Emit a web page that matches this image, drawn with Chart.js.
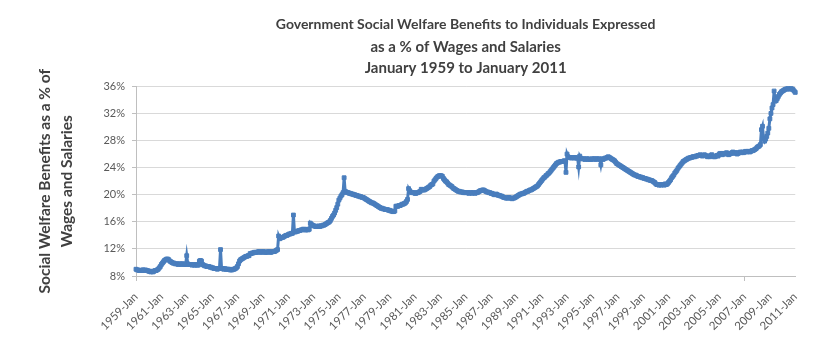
<!DOCTYPE html>
<html>
<head>
<meta charset="utf-8">
<script src="https://cdn.jsdelivr.net/npm/chart.js@4"></script>
<style>
  html, body { margin: 0; padding: 0; background: #ffffff; }
  #wrap { width: 814px; height: 358px; position: relative; }
</style>
</head>
<body>
<div id="wrap"><canvas id="c" width="814" height="358"></canvas></div>
<script>
// ---- Data (monthly, % of wages and salaries) ----
const years = [1959,1960,1961,1962,1963,1964,1965,1966,1967,1968,1969,1970,1971,1972,1973,1974,1975,1976,1977,1978,1979,1980,1981,1982,1983,1984,1985,1986,1987,1988,1989,1990,1991,1992,1993,1994,1995,1996,1997,1998,1999,2000,2001,2002,2003,2004,2005,2006,2007,2008,2009,2010,2011];
const months = ['Jan','Feb','Mar','Apr','May','Jun','Jul','Aug','Sep','Oct','Nov','Dec'];

const values1959to1968 = [
  9.0,8.9,8.9,8.8,8.8,8.8,8.9,8.9,8.8,8.9,8.8,8.8,
  8.7,8.7,8.6,8.7,8.6,8.7,8.8,8.8,8.9,9.0,9.2,9.4,
  9.7,9.9,10.1,10.3,10.4,10.5,10.5,10.4,10.2,10.1,10.0,9.9,
  9.9,9.8,9.8,9.8,9.7,9.8,9.8,9.7,9.8,9.8,9.7,9.7,
  11.0,9.8,9.7,9.7,9.7,9.6,9.7,9.6,9.6,9.7,9.6,9.6,
  10.2,10.3,10.2,9.7,9.6,9.5,9.5,9.4,9.4,9.4,9.3,9.3,
  9.2,9.2,9.1,9.1,9.1,9.0,9.1,9.1,11.9,9.1,9.1,9.0,
  9.1,9.0,9.0,9.0,9.0,8.9,8.9,8.9,9.0,9.0,9.1,9.2,
  9.4,9.8,10.2,10.4,10.5,10.6,10.7,10.8,10.9,10.9,11.0,11.0,
  11.3,11.3,11.4,11.4,11.5,11.5,11.5,11.5,11.6,11.6,11.5,11.5
];
const values1969to1978 = [
  11.6,11.6,11.5,11.5,11.5,11.6,11.6,11.5,11.5,11.6,11.6,11.6,
  11.7,11.8,11.9,13.9,13.5,13.6,13.7,13.7,13.8,13.9,14.0,14.0,
  14.1,14.2,14.2,14.3,14.3,17.0,14.5,14.5,14.6,14.6,14.7,14.7,
  14.8,14.8,14.9,14.9,14.8,14.8,14.9,14.8,14.9,15.8,15.6,15.5,
  15.4,15.4,15.3,15.3,15.3,15.4,15.3,15.4,15.4,15.5,15.5,15.6,
  15.7,15.8,15.9,16.0,16.2,16.5,16.8,17.0,17.3,17.7,18.1,18.6,
  19.2,19.5,19.8,20.0,20.3,22.5,20.5,20.4,20.3,20.3,20.2,20.2,
  20.1,20.1,20.0,20.0,19.9,19.9,19.8,19.8,19.7,19.7,19.6,19.6,
  19.5,19.4,19.3,19.2,19.1,19.0,18.9,18.8,18.8,18.7,18.6,18.5,
  18.4,18.3,18.2,18.1,18.0,18.0,17.9,17.9,17.8,17.8,17.8,17.7
];
const values1979to1988 = [
  17.7,17.6,17.6,17.5,17.5,17.6,18.3,18.3,18.3,18.4,18.4,18.5,
  18.6,18.6,18.7,18.8,19.0,19.3,20.9,20.6,20.4,20.3,20.3,20.3,
  20.2,20.2,20.3,20.3,20.4,20.5,20.8,20.7,20.7,20.7,20.8,20.9,
  21.0,21.1,21.2,21.4,21.5,21.6,22.0,22.2,22.4,22.6,22.7,22.8,
  22.8,22.8,22.7,22.4,22.2,22.0,21.9,21.7,21.5,21.4,21.3,21.2,
  21.0,20.9,20.8,20.7,20.6,20.5,20.5,20.4,20.4,20.4,20.3,20.3,
  20.3,20.3,20.3,20.2,20.3,20.3,20.2,20.3,20.3,20.2,20.3,20.3,
  20.4,20.5,20.6,20.6,20.7,20.7,20.6,20.5,20.4,20.4,20.3,20.3,
  20.2,20.2,20.1,20.0,20.0,20.1,20.0,19.9,19.9,19.8,19.8,19.7,
  19.6,19.6,19.5,19.5,19.5,19.6,19.5,19.5,19.4,19.5,19.5,19.6
];
const values1989to1998 = [
  19.7,19.8,19.9,20.0,20.1,20.1,20.2,20.2,20.3,20.4,20.5,20.5,
  20.6,20.7,20.7,20.8,20.9,21.0,21.1,21.2,21.3,21.5,21.7,21.9,
  22.1,22.3,22.5,22.6,22.8,22.9,23.1,23.2,23.4,23.6,23.8,24.0,
  24.2,24.4,24.6,24.7,24.8,24.8,24.9,24.9,24.9,25.0,25.0,23.3,
  26.0,25.6,25.5,25.5,25.4,25.5,25.5,25.4,25.5,25.4,25.4,24.1,
  25.7,25.4,25.3,25.3,25.3,25.2,25.3,25.3,25.2,25.3,25.2,25.2,
  25.3,25.3,25.3,25.2,25.3,25.3,25.3,25.2,24.4,25.3,25.2,25.3,
  25.4,25.4,25.5,25.6,25.5,25.4,25.3,25.2,25.1,25.0,24.8,24.6,
  24.5,24.4,24.3,24.2,24.1,24.0,23.9,23.8,23.7,23.6,23.5,23.4,
  23.3,23.2,23.1,23.0,22.9,22.9,22.8,22.7,22.7,22.6,22.6,22.5
];
const values1999to2011 = [
  22.5,22.4,22.4,22.3,22.3,22.2,22.2,22.1,22.1,22.0,21.9,21.8,
  21.6,21.5,21.5,21.4,21.5,21.4,21.5,21.5,21.4,21.6,21.5,21.6,
  21.8,22.0,22.2,22.5,22.7,22.9,23.2,23.4,23.6,23.9,24.1,24.3,
  24.5,24.7,24.9,25.0,25.1,25.2,25.3,25.4,25.4,25.5,25.5,25.6,
  25.6,25.6,25.7,25.7,25.8,25.8,25.9,25.8,25.7,25.8,25.9,25.8,
  25.7,25.6,25.7,25.6,25.8,25.9,25.7,25.6,25.6,25.7,25.8,25.7,
  26.0,26.1,26.0,25.9,26.1,26.0,26.1,26.2,26.0,25.9,26.0,26.1,
  26.2,26.3,26.1,26.2,26.2,26.0,26.1,26.2,26.3,26.2,26.3,26.2,
  26.3,26.4,26.3,26.4,26.4,26.3,26.4,26.5,26.5,26.6,26.7,26.8,
  27.0,27.1,27.2,27.4,29.6,30.1,28.3,27.9,28.2,28.6,29.1,29.8,
  31.2,32.0,32.8,33.3,35.3,33.8,33.9,34.2,34.5,34.8,35.0,35.2,
  35.3,35.4,35.5,35.6,35.6,35.7,35.6,35.6,35.7,35.6,35.5,35.3,
  35.1
];

const tickLabels = ['1959-Jan','1961-Jan','1963-Jan','1965-Jan','1967-Jan','1969-Jan','1971-Jan','1973-Jan','1975-Jan','1977-Jan','1979-Jan','1981-Jan','1983-Jan','1985-Jan','1987-Jan','1989-Jan','1991-Jan','1993-Jan','1995-Jan','1997-Jan','1999-Jan','2001-Jan','2003-Jan','2005-Jan','2007-Jan','2009-Jan','2011-Jan'];
const yTicks = [8,12,16,20,24,28,32,36];

const titleLines = ['Government Social Welfare Benefits to Individuals Expressed', 'as a % of Wages and Salaries', 'January 1959 to January 2011'];
const yTitleLines = ['Social Welfare Benefits as a % of', 'Wages and Salaries'];

// ---- Build library inputs ----
const values = [].concat(values1959to1968, values1969to1978, values1979to1988, values1989to1998, values1999to2011);
const labels = [];
for (const y of years) {
  for (const m of months) {
    if (labels.length < values.length) labels.push(y + '-' + m);
  }
}
const tickSet = new Set(tickLabels);

const blue = '#4a7ebd';
const FONT = 'Lato, "Open Sans", "DejaVu Sans", sans-serif';

new Chart(document.getElementById('c'), {
  type: 'line',
  data: {
    labels: labels,
    datasets: [{
      data: values,
      borderColor: blue,
      backgroundColor: blue,
      borderWidth: 3,
      pointStyle: 'rect',
      pointRadius: 2.7,
      pointBorderWidth: 1,
      pointBackgroundColor: blue,
      pointBorderColor: blue,
      tension: 0,
      fill: false
    }]
  },
  options: {
    responsive: false,
    animation: false,
    devicePixelRatio: 1,
    layout: { padding: { left: 0, right: 17, top: 0, bottom: 0 } },
    plugins: {
      legend: { display: false },
      tooltip: { enabled: false },
      title: {
        display: true,
        text: titleLines[0],
        fullSize: false,
        color: '#404040',
        font: { family: FONT, size: 14, weight: 'bold', lineHeight: 1.2 },
        padding: { top: 16, bottom: 3 }
      },
      subtitle: {
        display: true,
        text: [titleLines[1], titleLines[2]],
        fullSize: false,
        color: '#404040',
        font: { family: FONT, size: 15, weight: 'bold', lineHeight: 1.45 },
        padding: { top: 0, bottom: 7 }
      }
    },
    scales: {
      x: {
        type: 'category',
        afterFit: (s) => { s.height = 82; },
        border: { display: true, color: '#bfbfbf', width: 1 },
        grid: {
          drawOnChartArea: false,
          drawTicks: true,
          tickLength: 5,
          color: (ctx) => tickSet.has(labels[ctx.index]) ? '#bfbfbf' : 'rgba(0,0,0,0)',
          tickColor: (ctx) => tickSet.has(labels[ctx.index]) ? '#bfbfbf' : 'rgba(0,0,0,0)'
        },
        ticks: {
          autoSkip: false,
          minRotation: 45,
          maxRotation: 45,
          padding: 9,
          color: '#595959',
          font: { family: FONT, size: 11.5 },
          callback: function (val, idx) {
            const l = labels[idx];
            return tickSet.has(l) ? l : null;
          }
        }
      },
      y: {
        min: yTicks[0],
        max: yTicks[yTicks.length - 1],
        afterFit: (s) => { s.width = 136; },
        afterBuildTicks: (s) => { s.ticks = yTicks.map(v => ({ value: v })); },
        border: { display: true, color: '#bfbfbf', width: 1 },
        grid: { color: '#d9d9d9', lineWidth: 1, tickLength: 4, tickColor: '#bfbfbf' },
        ticks: {
          stepSize: 4,
          padding: 7,
          color: '#595959',
          font: { family: FONT, size: 11 },
          callback: (v) => v + '%'
        },
        title: {
          display: true,
          text: yTitleLines,
          color: '#404040',
          font: { family: FONT, size: 15.5, weight: 'bold', lineHeight: 1.42 },
          padding: { top: 34, bottom: 0 }
        }
      }
    }
  }
});
</script>
</body>
</html>
